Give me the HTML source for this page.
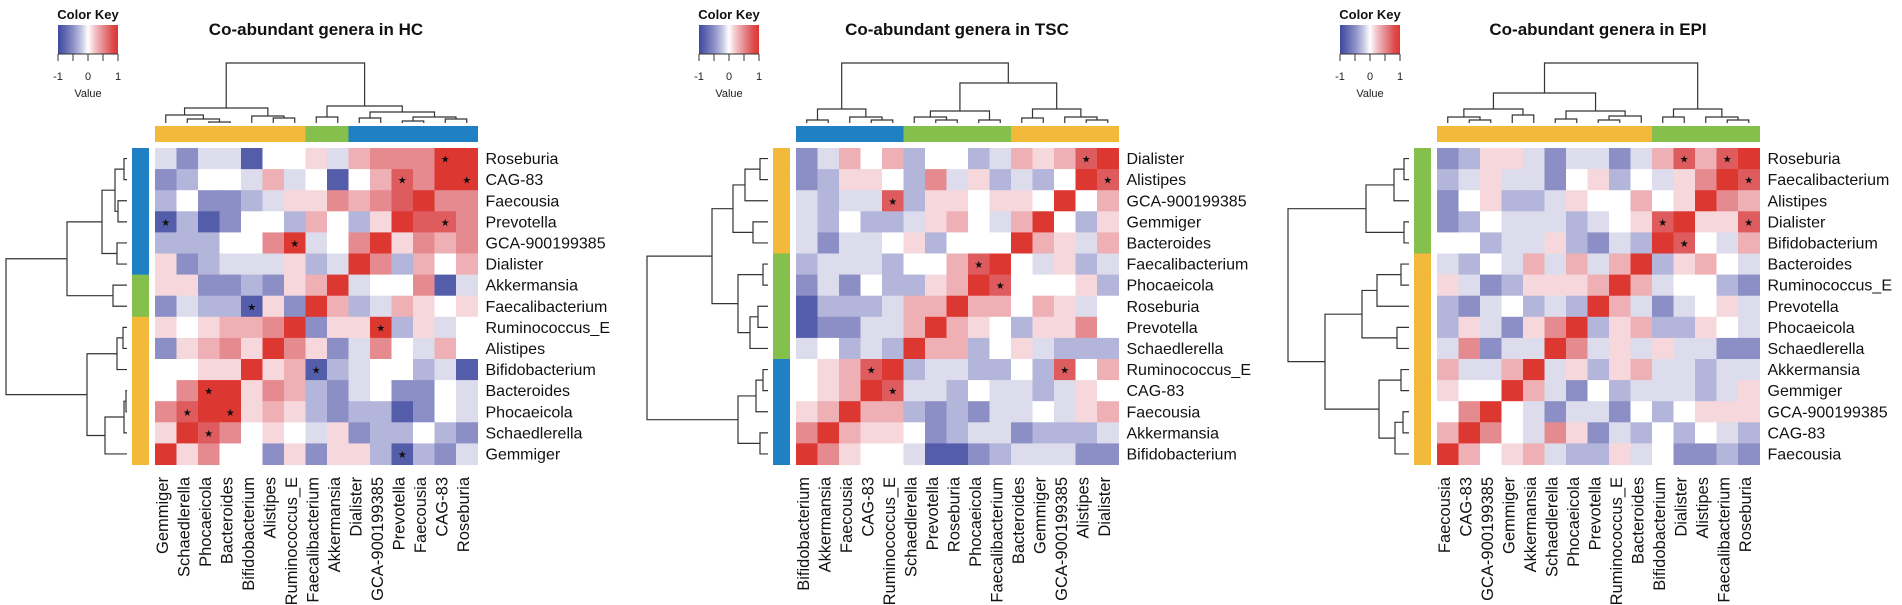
<!DOCTYPE html>
<html><head><meta charset="utf-8"><style>
html,body{margin:0;padding:0;background:#fff;}
svg{display:block;font-family:"Liberation Sans",Arial,sans-serif;}
</style></head><body>
<svg id="chart" width="1902" height="605" viewBox="0 0 1902 605" xmlns="http://www.w3.org/2000/svg">
<defs>
<linearGradient id="keygrad" x1="0" x2="1" y1="0" y2="0">
<stop offset="0" stop-color="#3f4aa0"/><stop offset="0.1" stop-color="#5b63ad"/><stop offset="0.25" stop-color="#8b8fc6"/><stop offset="0.4" stop-color="#c9cae4"/><stop offset="0.5" stop-color="#ffffff"/><stop offset="0.6" stop-color="#f3c9cd"/><stop offset="0.75" stop-color="#e58b90"/><stop offset="0.9" stop-color="#de4e4f"/><stop offset="1" stop-color="#dd3731"/>
</linearGradient>
</defs>
</svg>
<script>
// ---- data ----
const titles = ["Co-abundant genera in HC","Co-abundant genera in TSC","Co-abundant genera in EPI"];
const rowLabelsHC = ["Roseburia","CAG-83","Faecousia","Prevotella","GCA-900199385","Dialister","Akkermansia","Faecalibacterium","Ruminococcus_E","Alistipes","Bifidobacterium","Bacteroides","Phocaeicola","Schaedlerella","Gemmiger"];
const colLabelsHC = ["Gemmiger","Schaedlerella","Phocaeicola","Bacteroides","Bifidobacterium","Alistipes","Ruminococcus_E","Faecalibacterium","Akkermansia","Dialister","GCA-900199385","Prevotella","Faecousia","CAG-83","Roseburia"];
const rowLabelsTSC = ["Dialister","Alistipes","GCA-900199385","Gemmiger","Bacteroides","Faecalibacterium","Phocaeicola","Roseburia","Prevotella","Schaedlerella","Ruminococcus_E","CAG-83","Faecousia","Akkermansia","Bifidobacterium"];
const colLabelsTSC = ["Bifidobacterium","Akkermansia","Faecousia","CAG-83","Ruminococcus_E","Schaedlerella","Prevotella","Roseburia","Phocaeicola","Faecalibacterium","Bacteroides","Gemmiger","GCA-900199385","Alistipes","Dialister"];
const rowLabelsEPI = ["Roseburia","Faecalibacterium","Alistipes","Dialister","Bifidobacterium","Bacteroides","Ruminococcus_E","Prevotella","Phocaeicola","Schaedlerella","Akkermansia","Gemmiger","GCA-900199385","CAG-83","Faecousia"];
const colLabelsEPI = ["Faecousia","CAG-83","GCA-900199385","Gemmiger","Akkermansia","Schaedlerella","Phocaeicola","Prevotella","Ruminococcus_E","Bacteroides","Bifidobacterium","Dialister","Alistipes","Faecalibacterium","Roseburia"];

const valuesHC = [
[-.15,-.55,-.15,-.15,-.85,0,0,.15,-.15,.35,.55,.55,.55,1,1],
[-.55,-.35,0,0,-.15,.35,-.15,0,-.85,0,.35,.75,.55,1,1],
[-.35,0,-.55,-.55,-.35,-.15,.15,.15,.55,.35,.55,.75,1,.55,.55],
[-.85,-.35,-.85,-.55,0,0,-.35,.35,0,-.35,.15,1,.75,.75,.55],
[-.35,-.35,-.35,0,0,.55,1,-.15,0,.55,1,.15,.55,.35,.55],
[.15,-.55,-.35,-.15,-.15,-.15,.15,-.35,-.15,1,.55,-.35,.35,0,.35],
[.15,.15,-.55,-.55,-.35,-.55,.15,.35,1,-.15,0,0,.55,-.85,-.15],
[-.55,-.15,-.35,-.35,-.85,.15,-.55,1,.35,-.35,-.15,.35,.15,0,.15],
[.15,0,.15,.35,.35,.55,1,-.55,.15,.15,1,-.35,.15,-.15,0],
[-.55,.15,.35,.55,.15,1,.55,.15,-.55,-.15,.55,0,-.15,.35,0],
[0,0,.15,.15,1,.15,.35,-.85,-.35,-.15,0,0,-.35,-.15,-.85],
[0,.55,1,1,.15,.55,.35,-.35,-.55,-.15,0,-.55,-.55,0,-.15],
[.55,.75,1,1,.15,.35,.15,-.35,-.55,-.35,-.35,-.85,-.55,0,-.15],
[.15,1,.75,.55,0,.15,0,-.15,.15,-.55,-.35,-.35,0,-.35,-.55],
[1,.15,.55,0,0,-.55,.15,-.55,.15,.15,-.35,-.85,-.35,-.55,-.15]];
const valuesTSC = [
[-.55,-.15,.35,0,.35,-.35,0,0,-.35,-.15,.35,.15,.35,.75,1],
[-.55,-.35,.15,.15,0,-.35,.55,-.15,.15,-.35,-.15,-.35,0,1,.75],
[-.15,-.35,-.15,-.15,.75,-.35,.15,.15,0,.15,.15,0,1,0,.35],
[-.15,-.35,0,-.35,-.35,-.15,.15,.35,0,-.15,.35,1,0,-.35,.15],
[-.15,-.55,-.15,-.15,0,.15,-.35,0,0,0,1,.35,.15,-.15,.35],
[-.35,-.15,-.15,-.15,-.35,0,0,.35,.75,1,0,-.15,.15,-.35,-.15],
[-.55,-.15,-.55,0,-.35,-.35,.15,.35,1,.75,0,0,0,.15,-.35],
[-.85,-.35,-.35,-.35,-.15,.35,.35,1,.35,.35,0,.35,.15,-.15,0],
[-.85,-.55,-.55,-.15,-.15,.35,1,.35,.15,0,-.35,.15,.15,.55,0],
[-.15,0,-.35,-.15,-.35,1,.35,.35,-.35,0,.15,-.15,-.35,-.35,-.35],
[0,.15,.35,.75,1,-.35,-.15,-.15,-.35,-.35,0,-.35,.75,0,.35],
[0,.15,.35,1,.75,-.15,-.15,-.35,0,-.15,-.15,-.35,-.15,.15,0],
[.15,.35,1,.35,.35,-.35,-.55,-.35,-.55,-.15,-.15,0,-.15,.15,.35],
[.55,1,.35,.15,.15,0,-.55,-.35,-.15,-.15,-.55,-.35,-.35,-.35,-.15],
[1,.55,.15,0,0,-.15,-.85,-.85,-.55,-.35,-.15,-.15,-.15,-.55,-.55]];
const valuesEPI = [
[-.55,-.35,.15,.15,-.15,-.55,-.15,-.15,-.55,-.15,.35,.75,.35,.75,1],
[-.35,-.15,.15,-.15,-.15,-.55,0,.15,-.35,0,-.15,.15,.55,1,.75],
[-.55,0,.15,-.35,-.35,-.15,.15,0,0,.35,0,.15,1,.55,.35],
[-.55,-.35,0,-.15,-.15,-.15,-.35,-.15,0,.15,.75,1,.15,.15,.75],
[0,0,-.35,-.15,-.15,.15,-.35,-.55,-.15,-.35,1,.75,0,-.15,.35],
[-.15,-.35,0,-.15,.35,-.15,.35,-.15,.35,1,-.35,.15,.35,0,-.15],
[.15,-.15,-.55,-.35,.15,.15,.15,.35,1,.35,-.15,0,0,-.35,-.55],
[-.35,-.55,-.15,0,-.35,-.15,-.35,1,.35,-.15,-.55,-.15,0,.15,-.15],
[-.35,.15,-.15,-.55,.15,.55,1,-.35,.15,.35,-.35,-.35,.15,0,-.15],
[-.15,.55,-.55,-.15,-.15,1,.55,-.15,.15,-.15,.15,-.15,-.15,-.55,-.55],
[.35,-.15,-.15,.35,1,-.15,.15,-.35,.15,.35,-.15,-.15,-.35,-.15,-.15],
[.15,0,0,1,.35,-.15,-.55,0,-.35,-.15,-.15,-.15,-.35,-.15,.15],
[0,.55,1,0,-.15,-.55,-.15,-.15,-.55,0,-.35,0,.15,.15,.15],
[.35,1,.55,0,-.15,.55,.15,-.55,-.15,-.35,0,-.35,0,-.15,-.35],
[1,.35,0,.15,.35,-.15,-.35,-.35,.15,-.15,0,-.55,-.55,-.35,-.55]];

const starsHC = [[0,13],[1,11],[1,14],[3,0],[3,13],[4,6],[7,4],[8,10],[10,7],[11,2],[12,1],[12,3],[13,2],[14,11]];
const starsTSC = [[0,13],[1,14],[2,4],[5,8],[6,9],[10,3],[10,12],[11,4]];
const starsEPI = [[0,11],[0,13],[1,14],[3,10],[3,14],[4,11]];

const rowGroupsHC = ["b","b","b","b","b","b","g","g","o","o","o","o","o","o","o"];
const colGroupsHC = ["o","o","o","o","o","o","o","g","g","b","b","b","b","b","b"];
const rowGroupsTSC = ["o","o","o","o","o","g","g","g","g","g","b","b","b","b","b"];
const colGroupsTSC = ["b","b","b","b","b","g","g","g","g","g","o","o","o","o","o"];
const rowGroupsEPI = ["g","g","g","g","g","o","o","o","o","o","o","o","o","o","o"];
const colGroupsEPI = ["o","o","o","o","o","o","o","o","o","o","g","g","g","g","g"];

const rowTreeHC = [[[[[0,1,3],[2,3,9],12],[4,5,10],25],[6,7,14],60],[[[8,9,4],10,10],[[[11,12,1],13,3],14,22],40],121];
const colTreeHC = [[[0,[1,[2,3,1],4],8],[4,[5,6,5],7],15],[[7,8,6],[[9,10,5],[[11,12,2],[13,14,4],6],11],17],60];
const rowTreeTSC = [[[[[0,1,8],2,23],[3,4,15],35],[[5,6,5],[[7,8,10],9,18],30],56],[[[10,11,5],12,12],[13,14,8],30],121];
const colTreeTSC = [[[0,1,3],[2,[3,4,3],6],14],[[[5,[6,7,3],6],[8,9,3],12],[[10,11,5],[12,[13,14,3],6],14],40],60];
const rowTreeEPI = [[[[0,1,5],2,15],[3,4,5],43],[[[[5,6,8],7,32],[8,9,12],47],[[10,11,8],[[12,13,6],14,14],30],84],121];
const colTreeEPI = [[[[0,[1,2,3],6],[3,4,8],14],[[5,6,4],[[7,8,3],9,7],12],30],[[10,11,6],[12,[13,14,3],6],14],60];

const keyTicks = ["-1","0","1"];

// ---- drawing ----
const NS="http://www.w3.org/2000/svg";
const svg=document.getElementById('chart');
const CW=21.5, CH=21.1, HX0=155, HY=148, DX=641;
const groupColor={o:"#f2b93b",g:"#86c04c",b:"#1f80c4"};
const stops=[[-1,[63,74,160]],[-0.8,[91,99,173]],[-0.55,[139,143,198]],[-0.35,[179,181,218]],[-0.15,[220,220,236]],[0,[255,255,255]],[0.15,[246,216,220]],[0.35,[238,176,180]],[0.55,[229,139,144]],[0.75,[222,92,94]],[1,[221,55,49]]];
function colorScale(v){
  v=Math.max(-1,Math.min(1,v));
  for(let i=0;i<stops.length-1;i++){
    const a=stops[i],b=stops[i+1];
    if(v>=a[0]&&v<=b[0]){const t=(v-a[0])/(b[0]-a[0]);
      const c=a[1].map((x,k)=>Math.round(x+(b[1][k]-x)*t));return `rgb(${c[0]},${c[1]},${c[2]})`;}
  }
  return "#fff";
}
function mk(tag,attrs,parent){const e=document.createElementNS(NS,tag);for(const k in attrs)e.setAttribute(k,attrs[k]);(parent||svg).appendChild(e);return e;}
const xScale=(hx,j)=>hx+j*CW;
const yScale=i=>HY+i*CH;

function drawTree(g,tree,posFn,edge,orient,name){
  function rec(n){
    if(typeof n==="number") return {p:posFn(n),d:0};
    const a=rec(n[0]),b=rec(n[1]),d=n[2],p=(a.p+b.p)/2;
    let pts;
    if(orient==="row"){
      pts=`M${edge-a.d},${a.p}H${edge-d}V${b.p}H${edge-b.d}`;
    }else{
      pts=`M${a.p},${edge-a.d}V${edge-d}H${b.p}V${edge-b.d}`;
    }
    const l=mk('path',{d:pts,fill:'none',stroke:'#333','stroke-width':1.2},g);
    
    
    return {p,d};
  }
  rec(tree);
}

const panels=[
 {t:titles[0],rl:rowLabelsHC,cl:colLabelsHC,v:valuesHC,s:starsHC,rg:rowGroupsHC,cg:colGroupsHC,rt:rowTreeHC,ct:colTreeHC,id:"hc"},
 {t:titles[1],rl:rowLabelsTSC,cl:colLabelsTSC,v:valuesTSC,s:starsTSC,rg:rowGroupsTSC,cg:colGroupsTSC,rt:rowTreeTSC,ct:colTreeTSC,id:"tsc"},
 {t:titles[2],rl:rowLabelsEPI,cl:colLabelsEPI,v:valuesEPI,s:starsEPI,rg:rowGroupsEPI,cg:colGroupsEPI,rt:rowTreeEPI,ct:colTreeEPI,id:"epi"}];

panels.forEach((P,pi)=>{
  const ox=pi*DX, hx=HX0+ox;
  const g=mk('g',{});
  
  
  const kg=mk('g',{},g);
  
  
  const kt=mk('text',{x:88+ox,y:19,'text-anchor':'middle','font-size':13,'font-weight':'bold',fill:'#111'},kg);kt.textContent="Color Key";
  
  
  const kr=mk('rect',{x:58+ox,y:25,width:60,height:29,fill:'url(#keygrad)'},kg);
  
  
  mk('path',{d:`M${58+ox},54H${118+ox}`,stroke:'#333','stroke-width':1},kg);
  for(let k=0;k<5;k++){mk('path',{d:`M${58+ox+k*15},54V61`,stroke:'#333','stroke-width':1},kg);}
  keyTicks.forEach((tk,k)=>{const t=mk('text',{x:58+ox+k*30,y:80,'text-anchor':'middle','font-size':11,fill:'#222'},kg);t.textContent=tk;
    
    });
  const kv=mk('text',{x:88+ox,y:97,'text-anchor':'middle','font-size':11,fill:'#222'},kg);kv.textContent="Value";
  
  
  const tt=mk('text',{x:hx+161,y:35,'text-anchor':'middle','font-size':17,'font-weight':'bold',fill:'#111'},g);tt.textContent=P.t;
  
  
  const rd=mk('g',{},g);
  
  
  drawTree(rd,P.rt,i=>yScale(i)+CH/2,hx-28,"row","row-dendrogram");
  const cd=mk('g',{},g);
  
  
  drawTree(cd,P.ct,j=>xScale(hx,j)+CW/2,123,"col","column-dendrogram");
  P.rg.forEach((c,i)=>{const r=mk('rect',{x:hx-23,y:yScale(i),width:17,height:CH+0.5,fill:groupColor[c]},g);
    
    });
  P.cg.forEach((c,j)=>{const r=mk('rect',{x:xScale(hx,j),y:126,width:CW+0.5,height:16,fill:groupColor[c]},g);
    
    });
  P.v.forEach((row,i)=>row.forEach((val,j)=>{
    const r=mk('rect',{x:xScale(hx,j),y:yScale(i),width:CW+0.5,height:CH+0.5,fill:colorScale(val)},g);
    
    
  }));
  P.s.forEach(([i,j])=>{
    const t=mk('text',{x:xScale(hx,j)+CW/2,y:yScale(i)+CH/2+4,'text-anchor':'middle','font-size':10,fill:'#111'},g);t.textContent="★";
    
    
  });
  P.rl.forEach((l,i)=>{const t=mk('text',{x:hx+15*CW+8,y:yScale(i)+CH/2+5.5,'font-size':16,fill:'#111'},g);t.textContent=l;
    
    });
  P.cl.forEach((l,j)=>{const cx=xScale(hx,j)+CW/2+2;const t=mk('text',{x:cx,y:477,'font-size':16.5,fill:'#111','text-anchor':'end',transform:`rotate(-90 ${cx} 477)`},g);t.textContent=l;
    
    });
});
</script>
</body></html>
